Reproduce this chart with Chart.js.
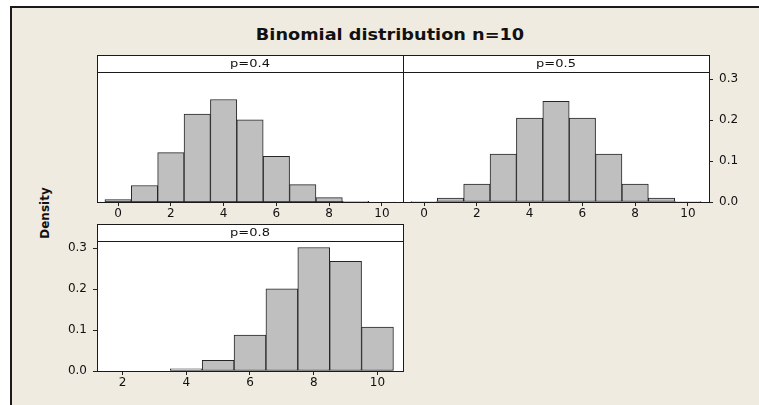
<!DOCTYPE html>
<html>
<head>
<meta charset="utf-8">
<script src="https://cdn.jsdelivr.net/npm/chart.js@4.4.1/dist/chart.umd.min.js"></script>
<style>
body { margin: 0; background: #fff; width: 759px; height: 405px; overflow: hidden; position: relative; font-family: "DejaVu Sans", sans-serif; }
#frame { position: absolute; left: 10px; top: 6px; width: 760px; height: 410px; background: #efebe1; border-left: 2px solid #1a1a1a; border-top: 2px solid #1a1a1a; }
canvas { position: absolute; left: 0; top: 0; }
#title { position: absolute; left: 190px; width: 400px; top: 25px; line-height: 20px; text-align: center; font-weight: bold; font-size: 15px; color: #111; transform: scaleX(1.18); }
#ylab { position: absolute; left: 45px; top: 213px; font-weight: bold; font-size: 12px; color: #111; white-space: nowrap; transform: translate(-50%, -50%) rotate(-90deg); }
</style>
</head>
<body>
<div id="frame"></div>
<div id="title">Binomial distribution n=10</div>
<div id="ylab">Density</div>
<canvas id="panel1" width="759" height="405"></canvas>
<canvas id="panel2" width="759" height="405"></canvas>
<canvas id="panel3" width="759" height="405"></canvas>
<script>
const kValues = [0, 1, 2, 3, 4, 5, 6, 7, 8, 9, 10];
const densityP04 = [0.006, 0.0403, 0.1209, 0.215, 0.2508, 0.2007, 0.1115, 0.0425, 0.0106, 0.0016, 0.0001];
const densityP05 = [0.001, 0.0098, 0.0439, 0.1172, 0.2051, 0.2461, 0.2051, 0.1172, 0.0439, 0.0098, 0.001];
const densityP08 = [null, null, null, null, 0.0055, 0.0264, 0.0881, 0.2013, 0.302, 0.2684, 0.1074];
const densityTicks = [0, 0.1, 0.2, 0.3];
const xTicksTop = [0, 2, 4, 6, 8, 10];
const xTicksBottom = [2, 4, 6, 8, 10];
const panelLabels = ['p=0.4', 'p=0.5', 'p=0.8'];

const W = 759, H = 405;
const STRIP = 17;
const tickFont = { family: '"DejaVu Sans", sans-serif', size: 12 };

// white panel background, strip on top, black frame, strip label
function framePlugin(label) {
  return {
    id: 'panelFrame',
    beforeDraw(chart) {
      const a = chart.chartArea, ctx = chart.ctx;
      ctx.save();
      ctx.fillStyle = '#fff';
      ctx.fillRect(a.left, a.top - STRIP, a.right - a.left, a.bottom - a.top + STRIP);
      ctx.restore();
    },
    afterDatasetsDraw(chart) {
      const a = chart.chartArea, ctx = chart.ctx;
      ctx.save();
      ctx.strokeStyle = '#1a1a1a';
      ctx.lineWidth = 1;
      ctx.strokeRect(a.left + 0.5, a.top - STRIP + 0.5, a.right - a.left, a.bottom - a.top + STRIP);
      ctx.beginPath();
      ctx.moveTo(a.left, a.top + 0.5);
      ctx.lineTo(a.right, a.top + 0.5);
      ctx.stroke();
      ctx.translate((a.left + a.right) / 2, a.top - STRIP / 2 + 0.5);
      ctx.scale(1.3, 1);
      ctx.fillStyle = '#111';
      ctx.font = '10px "DejaVu Sans", sans-serif';
      ctx.textAlign = 'center';
      ctx.textBaseline = 'middle';
      ctx.fillText(label, 0, 0);
      ctx.restore();
    }
  };
}

function renderPanel(id, label, values, area, xMin, xTicks, yPos) {
  const yAxisW = 40, xAxisH = 24;
  const padding = {
    left: yPos === 'left' ? area.left - yAxisW : area.left,
    right: yPos === 'right' ? W - area.right - yAxisW : W - area.right,
    top: area.top,
    bottom: H - area.bottom - xAxisH
  };
  return new Chart(document.getElementById(id), {
    type: 'bar',
    data: {
      datasets: [{
        data: kValues.map((k, i) => ({ x: k, y: values[i] })),
        backgroundColor: '#bfbfbf',
        borderColor: '#262626',
        borderWidth: 1,
        borderSkipped: false,
        barPercentage: 1,
        categoryPercentage: 1,
        grouped: false
      }]
    },
    options: {
      responsive: false,
      animation: false,
      events: [],
      layout: { padding: padding },
      plugins: { legend: { display: false }, tooltip: { enabled: false } },
      scales: {
        x: {
          type: 'linear',
          min: xMin,
          max: 10.8,
          offset: false,
          afterBuildTicks: s => { s.ticks = xTicks.map(v => ({ value: v })); },
          afterFit: s => { s.height = xAxisH; },
          grid: { display: true, offset: false, drawOnChartArea: false, drawTicks: true, tickLength: 4, color: '#222' },
          border: { display: true, color: '#1a1a1a' },
          ticks: { font: tickFont, color: '#111', padding: 1, maxRotation: 0, autoSkip: false, callback: v => v }
        },
        y: {
          display: yPos !== 'none',
          position: yPos === 'right' ? 'right' : 'left',
          min: 0,
          max: 0.318,
          afterBuildTicks: s => { s.ticks = densityTicks.map(v => ({ value: v })); },
          afterFit: s => { s.width = yPos === 'none' ? 0 : yAxisW; },
          grid: { display: true, drawOnChartArea: false, drawTicks: true, tickLength: 4, color: '#222' },
          border: { display: true, color: '#1a1a1a' },
          ticks: { font: tickFont, color: '#111', padding: 6, callback: v => v.toFixed(1) }
        }
      }
    },
    plugins: [framePlugin(label)]
  });
}

renderPanel('panel1', panelLabels[0], densityP04, { left: 97, right: 403, top: 72, bottom: 202 }, -0.8, xTicksTop, 'none');
renderPanel('panel2', panelLabels[1], densityP05, { left: 403, right: 709, top: 72, bottom: 202 }, -0.8, xTicksTop, 'right');
renderPanel('panel3', panelLabels[2], densityP08, { left: 97, right: 403, top: 241, bottom: 371 }, 1.2, xTicksBottom, 'left');
</script>
</body>
</html>
